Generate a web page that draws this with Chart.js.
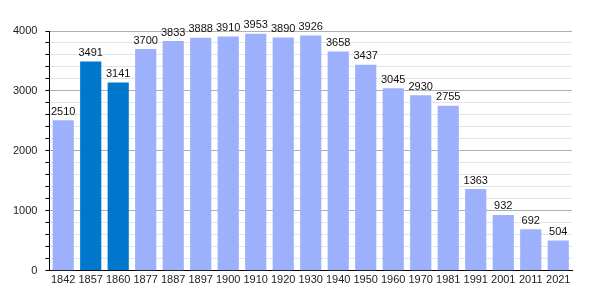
<!DOCTYPE html>
<html>
<head>
<meta charset="utf-8">
<script src="https://cdn.jsdelivr.net/npm/chart.js@4"></script>
<style>
  html, body { margin: 0; padding: 0; background: #fff; }
  #wrap { width: 600px; height: 300px; }
</style>
</head>
<body>
<div id="wrap"><canvas id="myChart" width="600" height="300"></canvas></div>
<script>
var years = ['1842', '1857', '1860', '1877', '1887', '1897', '1900', '1910', '1920', '1930',
             '1940', '1950', '1960', '1970', '1981', '1991', '2001', '2011', '2021'];
var population = [2510, 3491, 3141, 3700, 3833, 3888, 3910, 3953, 3890, 3926,
                  3658, 3437, 3045, 2930, 2755, 1363, 932, 692, 504];
// the two censuses drawn in the darker blue
var highlighted = ['1857', '1860'];
var yTicks = [0, 1000, 2000, 3000, 4000];

var barColors = years.map(function (y) {
    return highlighted.indexOf(y) >= 0 ? '#0077cc' : '#9cb0fc';
});

// writes the value above each bar
var valueLabels = {
    id: 'valueLabels',
    afterDatasetsDraw: function (chart) {
        var ctx = chart.ctx;
        var meta = chart.getDatasetMeta(0);
        ctx.save();
        ctx.font = '11px "Liberation Sans", Arial, sans-serif';
        ctx.fillStyle = '#111';
        ctx.textAlign = 'center';
        ctx.textBaseline = 'bottom';
        meta.data.forEach(function (bar, i) {
            ctx.fillText(population[i], bar.x, bar.y - 3);
        });
        ctx.restore();
    }
};

const ctx = document.getElementById('myChart');

new Chart(ctx, {
    type: 'bar',
    data: {
        labels: years,
        datasets: [{
            data: population,
            backgroundColor: barColors,
            borderWidth: 0,
            barPercentage: 0.77,
            categoryPercentage: 1
        }]
    },
    options: {
        responsive: false,
        animation: false,
        layout: { padding: { left: 5, right: 28, top: 31, bottom: 10 } },
        plugins: {
            legend: { display: false },
            tooltip: { enabled: false }
        },
        scales: {
            x: {
                grid: { display: false, drawTicks: false },
                border: { color: '#000', width: 1 },
                ticks: {
                    color: '#222',
                    padding: 3,
                    font: { family: '"Liberation Sans", Arial, sans-serif', size: 11 },
                    maxRotation: 0,
                    autoSkip: false
                }
            },
            y: {
                min: 0,
                max: 4000,
                border: { color: '#000', width: 1 },
                grid: {
                    color: function (c) {
                        return c.tick && c.tick.value % 1000 === 0 ? '#b0b0b0' : '#e4e4e4';
                    },
                    tickColor: '#000',
                    tickLength: 4
                },
                ticks: {
                    stepSize: 200,
                    autoSkip: false,
                    padding: 8,
                    color: '#222',
                    font: { family: '"Liberation Sans", Arial, sans-serif', size: 11 },
                    callback: function (v) {
                        return yTicks.indexOf(v) >= 0 ? v : '';
                    }
                }
            }
        }
    },
    plugins: [valueLabels]
});
</script>
</body>
</html>
